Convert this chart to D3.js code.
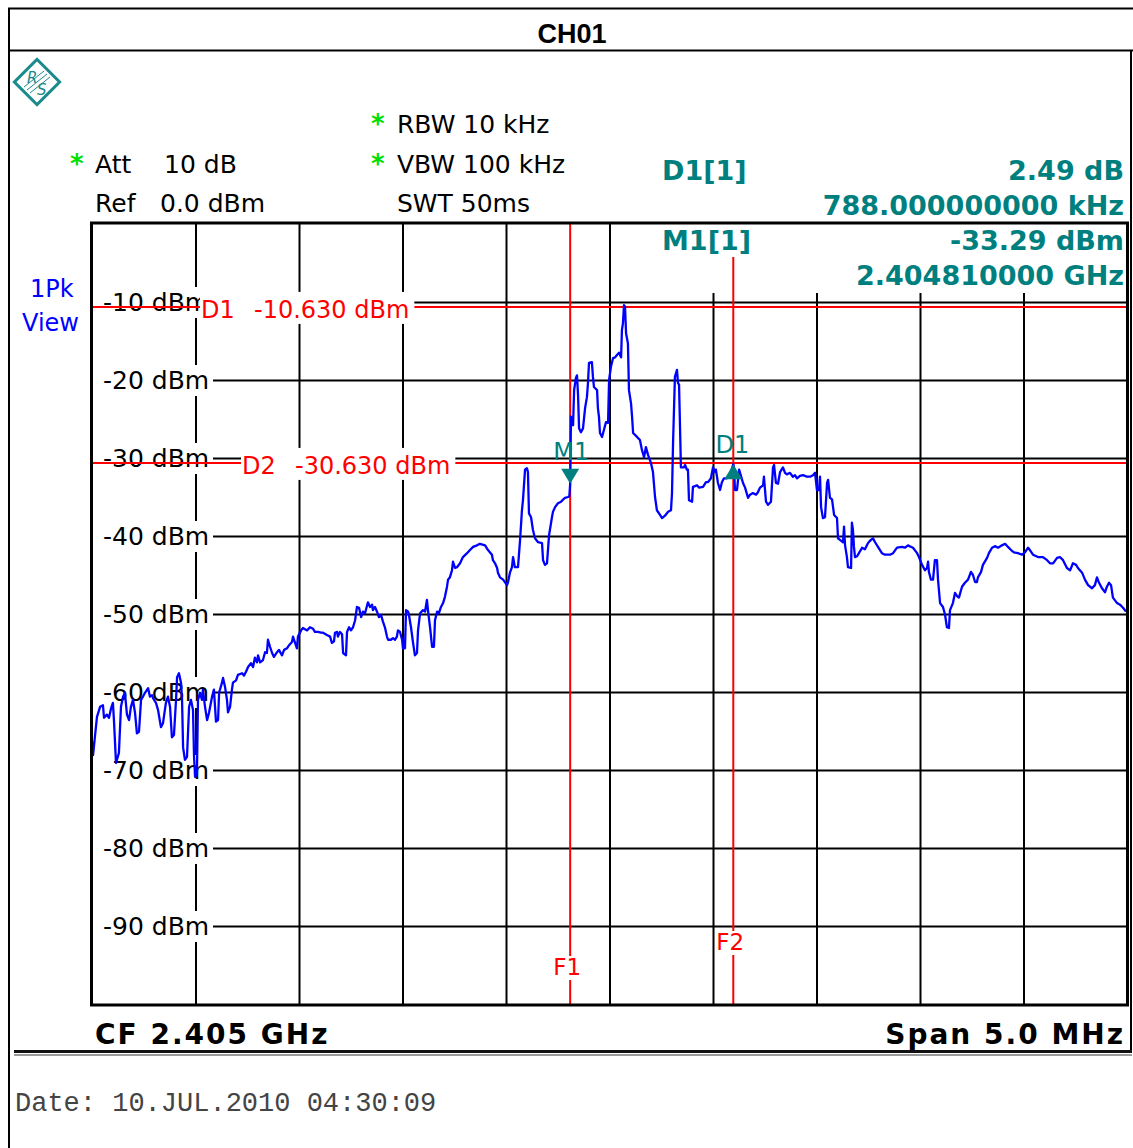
<!DOCTYPE html>
<html><head><meta charset="utf-8">
<script src="https://cdn.jsdelivr.net/npm/d3@7"></script>
<style>body{margin:0;background:#fff} svg{display:block}</style>
</head><body>
<svg id="c" width="1133" height="1148"></svg>
<script>
// ---------------- DATA ----------------
const title = "CH01";
const centerFreqGHz = 2.405;
const spanMHz = 5.0;
const refLevelDbm = 0.0;
const yTickValues = [-10, -20, -30, -40, -50, -60, -70, -80, -90];
const yTickUnit = "dBm";
const xGridValues = [0.5, 1.0, 1.5, 2.0, 2.5, 3.0, 3.5, 4.0, 4.5];
const settingsLeft = [["Att", "10 dB", true], ["Ref", "0.0 dBm", false]];
const settingsMid = [["RBW 10 kHz", true], ["VBW 100 kHz", true], ["SWT 50ms", false]];
const displayLineNames = ["D1", "D2"];
const displayLineLevels = [-10.630, -30.630];
const freqLineNames = ["F1", "F2"];
const freqLineOffsetsMHz = [2.310, 3.098];
const markerNames = ["M1", "D1"];
const markerOffsetsMHz = [2.310, 3.098];
const markerLevels = [-33.29, -30.80];
const markerReadout = [["D1[1]", "2.49 dB", "788.000000000 kHz"], ["M1[1]", "-33.29 dBm", "2.404810000 GHz"]];
const dateText = "Date: 10.JUL.2010 04:30:09";

// trace: frequency offset from start (MHz) and level (dBm)
const traceFreqMHz = [
0.000,0.005,0.014,0.024,0.039,0.053,0.058,0.072,0.082,0.092,0.101,0.106,0.116,0.130,0.140,0.150,0.159,0.169,0.179,0.188,
0.198,0.208,0.217,0.227,0.237,0.246,0.256,0.271,0.280,0.290,0.295,0.309,0.319,0.333,0.343,0.357,0.367,0.377,0.386,0.396,
0.406,0.411,0.420,0.430,0.435,0.440,0.449,0.459,0.469,0.478,0.488,0.493,0.498,0.507,0.512,0.522,0.531,0.536,0.546,0.556,
0.565,0.580,0.589,0.599,0.609,0.614,0.628,0.633,0.643,0.652,0.657,0.667,0.676,0.681,0.696,0.705,0.725,0.734,0.744,0.754,
0.768,0.778,0.787,0.797,0.802,0.812,0.826,0.836,0.845,0.850,0.860,0.870,0.879,0.894,0.903,0.918,0.928,0.942,0.952,0.966,
0.971,0.981,0.990,0.995,1.010,1.019,1.039,1.053,1.068,1.077,1.092,1.106,1.116,1.135,1.150,1.159,1.169,1.174,1.184,1.188,
1.198,1.208,1.213,1.227,1.232,1.242,1.251,1.261,1.271,1.280,1.290,1.300,1.309,1.319,1.333,1.343,1.353,1.357,1.367,1.377,
1.386,1.396,1.406,1.415,1.425,1.430,1.444,1.454,1.464,1.473,1.478,1.488,1.498,1.502,1.512,1.517,1.527,1.531,1.541,1.551,
1.560,1.570,1.575,1.585,1.599,1.609,1.618,1.623,1.633,1.643,1.652,1.657,1.667,1.676,1.686,1.696,1.705,1.715,1.720,1.729,
1.739,1.744,1.754,1.763,1.778,1.792,1.812,1.826,1.841,1.860,1.874,1.899,1.913,1.932,1.937,1.947,1.957,1.961,1.971,1.986,
2.005,2.010,2.019,2.029,2.034,2.043,2.058,2.068,2.077,2.082,2.092,2.101,2.106,2.111,2.121,2.130,2.140,2.155,2.174,2.179,
2.188,2.198,2.208,2.222,2.227,2.237,2.251,2.266,2.285,2.300,2.306,2.310,2.314,2.324,2.329,2.338,2.343,2.348,2.353,2.362,
2.372,2.382,2.391,2.396,2.401,2.415,2.420,2.425,2.440,2.444,2.449,2.454,2.464,2.473,2.483,2.493,2.498,2.507,2.517,2.527,
2.536,2.546,2.556,2.560,2.565,2.570,2.575,2.580,2.589,2.594,2.604,2.609,2.614,2.633,2.647,2.657,2.667,2.676,2.686,2.700,
2.710,2.720,2.729,2.744,2.754,2.768,2.783,2.797,2.802,2.807,2.816,2.826,2.831,2.836,2.841,2.845,2.860,2.865,2.874,2.879,
2.884,2.899,2.903,2.923,2.932,2.952,2.966,2.976,2.990,3.000,3.010,3.014,3.024,3.034,3.043,3.053,3.068,3.082,3.098,3.102,
3.106,3.116,3.126,3.135,3.145,3.155,3.169,3.179,3.193,3.208,3.217,3.227,3.242,3.246,3.256,3.266,3.280,3.290,3.295,3.304,
3.314,3.324,3.338,3.348,3.357,3.372,3.386,3.396,3.406,3.420,3.435,3.454,3.469,3.483,3.493,3.502,3.512,3.517,3.522,3.531,
3.541,3.551,3.556,3.565,3.575,3.585,3.599,3.604,3.618,3.628,3.633,3.638,3.647,3.652,3.667,3.671,3.676,3.681,3.686,3.696,
3.705,3.720,3.734,3.749,3.763,3.773,3.783,3.797,3.816,3.831,3.855,3.870,3.889,3.913,3.928,3.942,3.957,3.966,3.986,3.995,
4.010,4.024,4.034,4.039,4.043,4.053,4.063,4.072,4.082,4.087,4.097,4.111,4.121,4.130,4.140,4.145,4.159,4.169,4.179,4.188,
4.203,4.217,4.232,4.246,4.256,4.266,4.275,4.280,4.295,4.304,4.324,4.333,4.348,4.362,4.377,4.396,4.411,4.425,4.440,4.454,
4.473,4.493,4.507,4.522,4.531,4.546,4.570,4.594,4.614,4.628,4.643,4.662,4.676,4.691,4.710,4.725,4.739,4.754,4.763,4.783,
4.797,4.812,4.831,4.845,4.855,4.865,4.879,4.894,4.903,4.913,4.923,4.932,4.952,4.966,4.981,4.995];
const traceLevelDbm = [
-66.4,-68.1,-65.8,-63.2,-61.9,-61.7,-63.3,-62.9,-63.3,-62.1,-61.4,-63.6,-69.1,-67.8,-61.9,-60.6,-60.1,-62.9,-63.6,-61.9,
-61.0,-62.7,-65.3,-65.1,-61.0,-60.6,-60.1,-59.5,-60.6,-60.4,-60.8,-61.4,-62.3,-64.5,-64.0,-61.4,-60.6,-61.9,-65.8,-65.5,
-61.0,-58.1,-57.6,-58.8,-61.0,-67.1,-68.7,-68.3,-61.9,-61.0,-62.3,-68.3,-70.9,-70.4,-61.0,-60.1,-61.0,-59.7,-61.9,-63.6,
-62.7,-60.6,-59.7,-63.8,-63.6,-60.1,-58.8,-58.2,-59.4,-61.0,-62.6,-61.9,-59.7,-58.8,-58.5,-57.8,-57.6,-57.9,-57.4,-56.8,
-56.3,-56.8,-55.6,-56.2,-55.3,-56.2,-55.9,-54.9,-55.0,-53.3,-54.2,-55.0,-55.5,-54.9,-54.6,-55.3,-54.6,-54.4,-54.0,-53.6,
-52.9,-53.7,-54.4,-52.9,-52.1,-51.8,-52.1,-51.7,-51.9,-52.3,-52.3,-52.4,-52.4,-52.7,-52.9,-53.7,-53.5,-52.4,-52.3,-52.9,
-52.3,-52.6,-55.0,-55.3,-52.3,-51.7,-52.1,-51.7,-50.8,-49.1,-49.2,-50.4,-49.7,-49.9,-48.5,-49.1,-48.8,-49.5,-49.1,-49.7,
-50.4,-50.1,-51.0,-51.7,-52.9,-53.3,-53.3,-53.1,-53.3,-52.9,-52.1,-52.3,-53.3,-54.4,-54.4,-49.5,-49.7,-50.1,-51.7,-53.7,
-55.3,-55.0,-52.1,-49.9,-49.5,-49.7,-48.2,-49.5,-51.7,-54.2,-54.2,-50.8,-49.7,-49.9,-49.1,-48.6,-47.8,-46.5,-45.6,-45.3,
-44.4,-43.3,-44.1,-44.0,-43.5,-42.7,-42.2,-41.8,-41.4,-41.2,-41.0,-41.2,-41.8,-42.4,-43.1,-43.5,-44.1,-44.7,-45.3,-45.6,
-46.3,-45.9,-44.7,-44.0,-42.7,-44.0,-44.0,-40.5,-36.7,-35.4,-31.5,-31.3,-31.8,-37.1,-37.6,-39.2,-40.3,-40.8,-40.9,-43.1,
-43.7,-43.5,-39.9,-37.6,-36.9,-36.3,-35.8,-35.6,-35.1,-35.0,-34.9,-33.3,-24.7,-25.8,-21.3,-19.7,-19.4,-21.9,-26.2,-26.7,
-26.2,-23.6,-22.2,-20.4,-17.8,-17.7,-19.6,-20.9,-21.3,-23.6,-24.7,-26.8,-27.3,-26.4,-25.4,-25.5,-20.0,-18.3,-17.2,-17.1,
-16.8,-16.5,-17.1,-13.6,-12.7,-10.4,-10.6,-14.0,-15.3,-21.3,-23.0,-24.7,-26.8,-27.3,-27.7,-29.0,-29.9,-28.6,-29.6,-30.6,
-31.8,-35.0,-36.7,-37.3,-37.7,-37.4,-36.9,-36.7,-34.5,-28.1,-19.6,-18.7,-20.4,-20.6,-26.4,-31.2,-31.2,-30.9,-31.5,-31.5,
-35.4,-35.6,-33.7,-33.5,-33.8,-33.7,-33.1,-33.1,-32.6,-31.2,-31.8,-31.5,-33.2,-34.1,-33.1,-32.6,-32.6,-32.2,-30.8,-31.4,
-34.1,-34.1,-31.5,-32.3,-33.2,-33.8,-35.1,-34.7,-34.5,-34.7,-34.4,-33.8,-33.5,-32.4,-35.6,-36.0,-35.6,-31.2,-30.9,-33.2,
-33.3,-31.8,-31.2,-31.9,-32.1,-31.9,-32.4,-32.2,-32.6,-32.3,-32.2,-32.4,-32.4,-32.2,-31.9,-34.1,-34.1,-32.4,-36.3,-37.7,
-37.6,-33.2,-32.8,-35.1,-35.3,-37.3,-37.7,-40.3,-40.6,-40.8,-38.8,-41.2,-42.7,-44.0,-44.1,-38.3,-39.2,-41.4,-42.7,-42.6,
-42.2,-41.5,-41.7,-40.9,-40.5,-40.3,-40.8,-41.4,-42.2,-42.4,-42.4,-42.2,-41.5,-41.4,-41.5,-41.2,-41.4,-41.5,-42.2,-42.7,
-43.7,-44.4,-44.1,-43.3,-44.6,-45.6,-45.6,-43.1,-43.1,-45.6,-48.6,-49.1,-50.1,-51.7,-51.8,-49.5,-48.6,-47.3,-47.7,-47.9,
-46.5,-46.0,-45.6,-44.6,-45.0,-45.9,-45.9,-45.3,-44.6,-43.7,-42.8,-42.2,-41.5,-41.3,-41.5,-41.2,-41.0,-41.4,-41.8,-42.1,
-42.2,-42.4,-42.1,-41.5,-41.8,-42.4,-42.7,-42.7,-43.1,-43.5,-43.5,-42.8,-42.7,-43.1,-44.1,-44.4,-43.5,-43.7,-44.1,-44.7,
-45.6,-46.3,-46.7,-46.3,-45.3,-46.0,-46.7,-47.2,-46.5,-46.0,-46.3,-47.9,-48.6,-48.8,-49.2,-49.7];

// ---------------- DRAW ----------------
const svg = d3.select("#c");
const FONT = "DejaVu Sans, Verdana, sans-serif";
const TEAL = "#007f7f", RED = "#ff0000", BLUE = "#0000ff", GREEN = "#00e000";
const P = {l: 92, r: 1127, t: 224, b: 1004};
const x = d3.scaleLinear().domain([0, spanMHz]).range([P.l, P.r]);
const y = d3.scaleLinear().domain([refLevelDbm - 100, refLevelDbm]).range([P.b, P.t]);

svg.append("rect").attr("width", 1133).attr("height", 1148).attr("fill", "#fff");

// outer frame
const frame = svg.append("g").attr("stroke", "#000").attr("fill", "none");
frame.append("line").attr("x1", 8).attr("x2", 1133).attr("y1", 8.5).attr("y2", 8.5).attr("stroke-width", 2);
frame.append("line").attr("x1", 8).attr("x2", 1133).attr("y1", 50.5).attr("y2", 50.5).attr("stroke-width", 2);
frame.append("line").attr("x1", 9).attr("x2", 9).attr("y1", 8).attr("y2", 1148).attr("stroke-width", 2);
frame.append("line").attr("x1", 1131).attr("x2", 1131).attr("y1", 50).attr("y2", 1052).attr("stroke-width", 2);
frame.append("line").attr("x1", 14).attr("x2", 1132).attr("y1", 1051.5).attr("y2", 1051.5).attr("stroke-width", 3).attr("stroke", "#111");
frame.append("line").attr("x1", 14).attr("x2", 1132).attr("y1", 1055).attr("y2", 1055).attr("stroke-width", 2).attr("stroke", "#9a9a9a");

svg.append("text").attr("x", 572).attr("y", 43).attr("text-anchor", "middle")
  .attr("font-family", "Liberation Sans, Arial, sans-serif").attr("font-weight", "bold")
  .attr("font-size", 27).text(title);

// R&S logo
const logo = svg.append("g").attr("transform", "translate(37,82)");
logo.append("rect").attr("x", -16).attr("y", -16).attr("width", 32).attr("height", 32)
  .attr("transform", "rotate(45)").attr("fill", "none").attr("stroke", "#1a8a8a").attr("stroke-width", 3);
logo.append("text").attr("x", -10).attr("y", 1).attr("font-family", FONT).attr("font-size", 15)
  .attr("font-style", "italic").attr("fill", "#1a8a8a").text("R");
logo.append("text").attr("x", 0).attr("y", 13).attr("font-family", FONT).attr("font-size", 15)
  .attr("font-style", "italic").attr("fill", "#1a8a8a").text("S");
[-3, 0, 3].forEach(d => logo.append("line").attr("x1", -10 + d).attr("y1", 8 + d).attr("x2", 10 + d).attr("y2", -8 + d)
  .attr("stroke", "#1a8a8a").attr("stroke-width", 1));

// settings texts
const txt = (sel, xx, yy, s, opts = {}) => sel.append("text").attr("x", xx).attr("y", yy)
  .attr("font-family", opts.family || FONT).attr("font-size", opts.size || 25)
  .attr("font-weight", opts.weight || "normal").attr("fill", opts.fill || "#000")
  .attr("text-anchor", opts.anchor || "start").attr("letter-spacing", opts.ls || 0).text(s);

settingsLeft.forEach((s, i) => {
  const yy = 173 + i * 39;
  if (s[2]) txt(svg, 70, yy, "*", {fill: GREEN, weight: "bold", size: 26});
  txt(svg, 95, yy, s[0]);
  txt(svg, i === 0 ? 164 : 160, yy, s[1]);
});
settingsMid.forEach((s, i) => {
  const yy = 133 + i * 39.5;
  if (s[1]) txt(svg, 371, yy, "*", {fill: GREEN, weight: "bold", size: 26});
  txt(svg, 397, yy, s[0]);
});
txt(svg, 30, 297, "1Pk", {fill: BLUE, size: 24});
txt(svg, 22, 331, "View", {fill: BLUE, size: 24});

// grid
const gx = svg.append("g").attr("transform", `translate(0,${P.b})`)
  .call(d3.axisBottom(x).tickValues(xGridValues).tickSize(-(P.b - P.t)).tickFormat(""));
gx.select(".domain").remove();
gx.selectAll("line").attr("stroke", "#000").attr("stroke-width", 2);
const gy = svg.append("g").attr("transform", `translate(${P.l},0)`)
  .call(d3.axisRight(y).tickValues(yTickValues).tickSize(P.r - P.l).tickFormat(""));
gy.select(".domain").remove();
gy.selectAll("line").attr("stroke", "#000").attr("stroke-width", 2);

// marker readout box (inside plot, covers grid)
svg.append("rect").attr("x", 640).attr("y", P.t).attr("width", P.r - 640).attr("height", 69).attr("fill", "#fff");

// y tick labels with background
yTickValues.forEach(v => {
  svg.append("rect").attr("x", 93).attr("y", y(v) - 15).attr("width", 120).attr("height", 31).attr("fill", "#fff");
  txt(svg, 103, y(v) + 9, `${v} ${yTickUnit}`);
});

// display lines D1/D2
displayLineLevels.forEach((lv, i) => {
  svg.append("line").attr("x1", P.l).attr("x2", P.r).attr("y1", y(lv)).attr("y2", y(lv))
    .attr("stroke", RED).attr("stroke-width", 2);
});
const dLabelX = [201, 242];
displayLineLevels.forEach((lv, i) => {
  const g = svg.append("g");
  txt(g, dLabelX[i], y(lv) + 11, displayLineNames[i], {fill: RED, size: 24});
  const t2 = txt(g, dLabelX[i] + 53, y(lv) + 11, `${lv.toFixed(3)} dBm`, {fill: RED, size: 24});
  const b = t2.node().getBBox();
  g.insert("rect", "text").attr("x", dLabelX[i] - 1).attr("y", y(lv) - 15)
    .attr("width", b.x + b.width - dLabelX[i] + 6).attr("height", 32).attr("fill", "#fff");
});

// frequency lines F1/F2
const fTop = [P.t, 257];
const fLabelY = [975, 950];
freqLineOffsetsMHz.forEach((f, i) => {
  svg.append("line").attr("x1", x(f)).attr("x2", x(f)).attr("y1", fTop[i]).attr("y2", P.b)
    .attr("stroke", RED).attr("stroke-width", 2);
  const g = svg.append("g");
  const t = txt(g, x(f) - 3, fLabelY[i], freqLineNames[i], {fill: RED, size: 23, anchor: "middle"});
  const b = t.node().getBBox();
  g.insert("rect", "text").attr("x", b.x - 1).attr("y", b.y + 2).attr("width", b.width + 2).attr("height", b.height - 2).attr("fill", "#fff");
});

// trace
const line = d3.line().x((d, i) => x(traceFreqMHz[i])).y((d, i) => y(traceLevelDbm[i]));
svg.append("path").datum(traceLevelDbm).attr("d", line).attr("fill", "none")
  .attr("stroke", BLUE).attr("stroke-width", 2.3).attr("stroke-linejoin", "round");

// markers
markerOffsetsMHz.forEach((f, i) => {
  const mx = x(f), my = y(markerLevels[i]);
  if (i === 0) {
    svg.append("path").attr("d", `M${mx},${my} L${mx - 9},${my - 15} L${mx + 9},${my - 15} Z`).attr("fill", TEAL);
    txt(svg, mx + 1, my - 24, markerNames[i], {fill: TEAL, size: 24, anchor: "middle"});
  } else {
    svg.append("path").attr("d", `M${mx},${my} L${mx - 9},${my + 15} L${mx + 9},${my + 15} Z`).attr("fill", TEAL);
    txt(svg, mx - 1, my - 11, markerNames[i], {fill: TEAL, size: 24, anchor: "middle"});
  }
});

// plot border
svg.append("rect").attr("x", P.l - 0.5).attr("y", P.t - 1).attr("width", P.r - P.l + 1).attr("height", P.b - P.t + 2)
  .attr("fill", "none").attr("stroke", "#000").attr("stroke-width", 3);

// marker readouts
markerReadout.forEach((m, i) => {
  const y0 = 180 + i * 70;
  txt(svg, 662, y0, m[0], {fill: TEAL, size: 27, weight: "bold"});
  txt(svg, 1124, y0, m[1], {fill: TEAL, size: 27, weight: "bold", anchor: "end"});
  txt(svg, 1124, y0 + 35, m[2], {fill: TEAL, size: 27, weight: "bold", anchor: "end"});
});

// bottom labels
txt(svg, 95, 1044, `CF ${centerFreqGHz} GHz`, {size: 28, weight: "bold", ls: 2});
txt(svg, 1125, 1044, `Span ${spanMHz.toFixed(1)} MHz`, {size: 28, weight: "bold", ls: 2, anchor: "end"});
txt(svg, 15, 1111, dateText, {family: "Liberation Mono, DejaVu Sans Mono, monospace", size: 27, fill: "#444"});
</script>
</body></html>
